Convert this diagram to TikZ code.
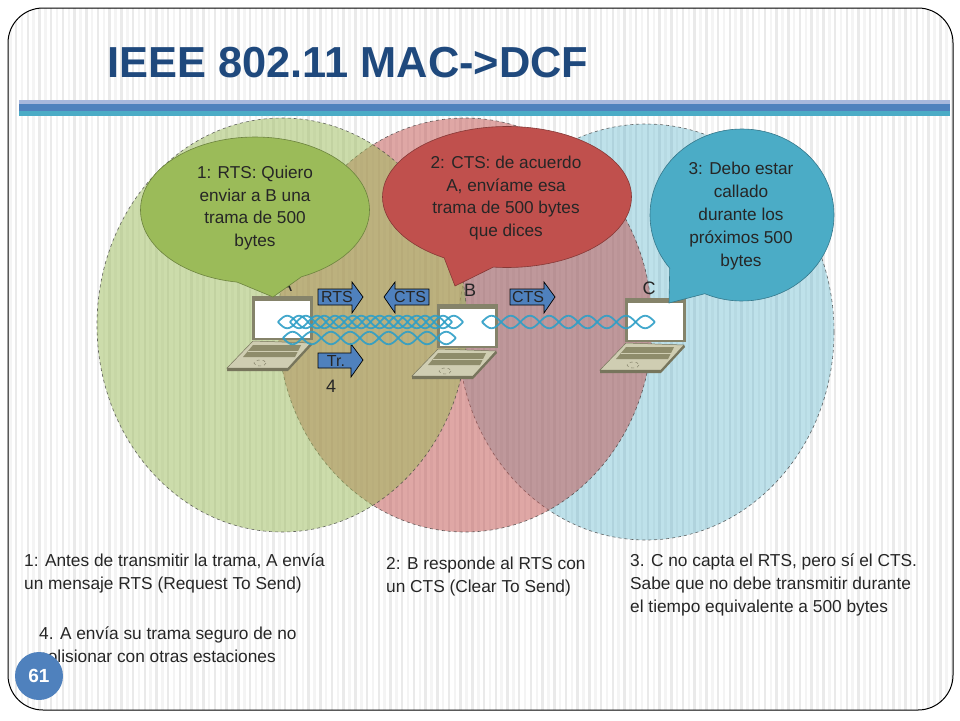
\documentclass[tikz,border=0pt]{standalone}
\usepackage{fontspec}
\setmainfont{Liberation Sans}
\usetikzlibrary{shapes.geometric,shapes.callouts}
\definecolor{cgreen}{HTML}{9BBB59}
\definecolor{cred}{HTML}{C0504D}
\definecolor{cblue}{HTML}{4BACC6}
\definecolor{ctitle}{HTML}{1F497D}
\definecolor{cbar}{HTML}{4F81BD}
\definecolor{cbarlight}{HTML}{A7B7DC}
\definecolor{cstripea}{HTML}{F4F4F4}
\definecolor{cstripeb}{HTML}{EAEAEA}
\definecolor{chelix}{HTML}{2F9FC7}
\definecolor{lid}{HTML}{85836A}
\definecolor{lapbase}{HTML}{CFCDB2}
\definecolor{lapkeys}{HTML}{8E8C6B}
\definecolor{lapedge}{HTML}{77755C}
\tikzset{
  x=1pt,y=-1pt,
  zone/.style={draw=black!75,dashed,line width=.6pt,fill opacity=#1,draw opacity=.8},
  bubble/.style={ellipse callout,draw=#1!70!black,fill=#1,line width=.6pt,inner sep=0pt},
  bubbletext/.style={align=center,text=black!85,font=\fontsize{17.2}{22.8}\selectfont,inner sep=0pt},
  body/.style={anchor=north west,align=left,text=black!85,font=\fontsize{17.3}{23}\selectfont,inner sep=0pt},
  tag/.style={text=black!85,font=\fontsize{16}{18}\selectfont,inner sep=0pt},
  biglabel/.style={text=black!85,font=\fontsize{18}{20}\selectfont,inner sep=0pt},
  blockfill/.style={draw=black,fill=cbar,line width=.7pt},
  strand/.style={draw=chelix,line width=1.8pt,opacity=.9},
  pics/laptop/.style={code={
    \fill[lid] (0,0)--(61,0)--(61,44)--(0,44)--cycle;
    \fill[white] (3.3,4.7)--(57.5,4.7)--(57.5,42)--(3.3,42)--cycle;
    \fill[lapbase,draw=lapedge,line width=.5pt] (1,45)--(59,47)--(36,72)--(-25,72)--cycle;
    \fill[lapedge] (-25,72)--(36,72)--(59,47)--(60,49)--(36,75)--(-25,75)--cycle;
    \fill[lapkeys] (1,49)--(49,49)--(43,61)--(-9,61)--cycle;
    \draw[lapbase,line width=.6pt] (-4,55)--(46,55);
    \draw[lapedge,dashed,line width=.4pt] (8,67) ellipse [x radius=6,y radius=3];
  }}
}
\newcommand{\helix}[4]{% x start, half periods, half period length, y
  \draw[strand] plot[smooth,domain=0:#2*8,samples=#2*8+1] ({#1+\x*#3/8},{#4+6.3*sin(\x*22.5)});
  \draw[strand] plot[smooth,domain=0:#2*8,samples=#2*8+1] ({#1+\x*#3/8},{#4-6.3*sin(\x*22.5)});
}
\begin{document}
\begin{tikzpicture}
\useasboundingbox (0,0) rectangle (960,720);
\fill[white] (0,0) rectangle (960,720);
% slide and stripes
\begin{scope}
\clip[rounded corners=35pt] (8,8) rectangle (953,710);
\foreach \i in {0,2,...,160} \fill[cstripea] ({9+\i*5.85},8) rectangle ({11.5+\i*5.85},710);
\foreach \i in {1,3,...,161} \fill[cstripeb] ({9+\i*5.85},8) rectangle ({11.5+\i*5.85},710);
\end{scope}
\draw[black,line width=1pt,rounded corners=35pt] (8,8) rectangle (953,710);
% title and rule
\node[anchor=west,text=ctitle,font=\fontsize{43.4}{50}\selectfont\bfseries,inner sep=0pt] (title) at (107,63) {IEEE 802.11 MAC->DCF};
\fill[cbarlight] (19,100) rectangle (950,104);
\fill[cbar] (19,104) rectangle (950,111);
\fill[cblue] (19,111) rectangle (950,116);
% zones
\path[zone=.36,fill=cblue] (646,332) ellipse [x radius=188,y radius=208];
\path[zone=.5,fill=cred] (465,325) ellipse [x radius=187,y radius=207];
\path[zone=.5,fill=cgreen] (282,325) ellipse [x radius=185,y radius=207];
% labels and laptops
\node[biglabel] (labA) at (286,285) {A};
\node[biglabel] (labB) at (470,290) {B};
\node[biglabel] (labC) at (649,288) {C};
\pic at (252,296) {laptop};
\pic at (437,304) {laptop};
\pic at (625,298) {laptop};
% bubbles
\node[bubble=cgreen,minimum width=229pt,minimum height=146pt,callout absolute pointer={(273,297)},callout pointer arc=33] (b1) at (255,210) {};
\node[bubble=cred,minimum width=249pt,minimum height=141pt,callout absolute pointer={(455,286)},callout pointer arc=24] (b2) at (507,197) {};
\node[bubble=cblue,minimum width=184pt,minimum height=172pt,callout absolute pointer={(669,303)},callout pointer arc=28] (b3) at (742,215) {};
\node[bubbletext] (tb1) at (255,208) {1: RTS: Quiero\\enviar a B una\\trama de 500\\bytes};
\node[bubbletext] (tb2) at (506,198) {2: CTS: de acuerdo\\A, envíame esa\\trama de 500 bytes\\que dices};
\node[bubbletext] (tb3) at (741,216) {3: Debo estar\\callado\\durante los\\próximos 500\\bytes};
% block arrows
\draw[blockfill] (318,289)--(352,289)--(352,282)--(363,297)--(352,313)--(352,305)--(318,305)--cycle;
\node[tag] (rts) at (337,297) {RTS};
\draw[blockfill] (429,289)--(395,289)--(395,282)--(384,297)--(395,313)--(395,305)--(429,305)--cycle;
\node[tag] (cts1) at (410,297) {CTS};
\draw[blockfill] (510,289)--(544,289)--(544,282)--(555,297)--(544,313)--(544,305)--(510,305)--cycle;
\node[tag] (cts2) at (528,297) {CTS};
\draw[blockfill] (318,353)--(351,353)--(351,344)--(363,360)--(351,377)--(351,368)--(318,368)--cycle;
\node[tag] (tr) at (336,361) {Tr.};
\node[biglabel] (n4) at (331,386) {4};
% waves
\helix{278}{10}{18.5}{322}
\helix{290}{9}{18}{322}
\helix{283}{9}{19.2}{338}
\helix{482}{9}{19.2}{322}
% texts
\node[body] (t1) at (24,554) {1: Antes de transmitir la trama, A envía\\un mensaje RTS (Request To Send)};
\node[body] (t2) at (386,557) {2: B responde al RTS con\\un CTS (Clear To Send)};
\node[body] (t3) at (630,554) {3. C no capta el RTS, pero sí el CTS.\\Sabe que no debe transmitir durante\\el tiempo equivalente a 500 bytes};
\node[body] (t4) at (39,627) {4. A envía su trama seguro de no\\colisionar con otras estaciones};
\node[circle,fill=cbar,text=white,minimum size=48pt,inner sep=0pt,font=\fontsize{19}{20}\selectfont\bfseries] (page) at (39,676) {61};
\end{tikzpicture}
\end{document}
